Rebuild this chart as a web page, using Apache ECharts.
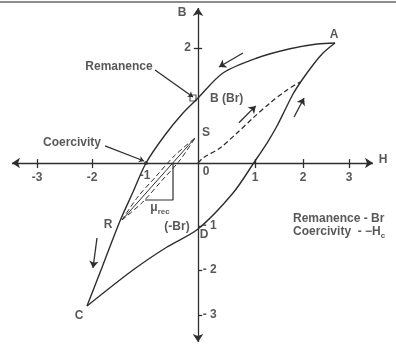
<!DOCTYPE html>
<html><head><meta charset="utf-8">
<script src="https://cdn.jsdelivr.net/npm/echarts@6/dist/echarts.min.js"></script>
<style>html,body{margin:0;padding:0;background:#fff}#c{width:396px;height:346px}</style>
</head><body><div id="c"></div>
<script>
// ---- data (H in data units, B in data units) ----
const upperBranch = [[-2.114,-2.554],[-1.81,-1.82],[-1.486,-1.036],[-1.238,-0.518],[-0.99,0],[-0.629,0.5],[-0.286,0.893],[0,1.161],[0.476,1.607],[1.124,1.875],[1.752,2.04],[2.267,2.125],[2.61,2.143]];
const lowerBranch = [[-2.114,-2.554],[-1.238,-1.911],[-0.59,-1.5],[0,-1.179],[0.667,-0.536],[1.086,0.036],[1.314,0.357],[1.505,0.661],[1.657,0.946],[1.81,1.232],[1.981,1.482],[2.19,1.75],[2.381,1.964],[2.61,2.143]];
const initialCurve = [[0,0],[0.095,0.089],[0.419,0.268],[0.743,0.536],[1.048,0.804],[1.371,1.071],[1.695,1.304],[1.943,1.446]];
const recoilMid = [[-1.448,-1.018],[-0.057,0.446]];
const recoilUpper = [[-1.448,-1.018],[-1.148,-0.607],[-0.80,-0.24],[-0.453,0.125],[-0.057,0.446]];
const recoilLower = [[-1.448,-1.018],[-1.052,-0.697],[-0.705,-0.33],[-0.357,0.035],[-0.057,0.446]];
const muTriangle = [[-1.01,-0.661],[-0.476,-0.661],[-0.476,0]];
const flowArrows = [[[0.857,1.964],[0.4,1.714]],[[1.83,0.821],[2.02,1.161]],[[0.78,0.72],[1.10,1.02]],[[-1.924,-1.339],[-2.0,-1.875]]];
const leaders = [[[-0.819,1.661],[-0.095,1.179]],[[-1.771,0.304],[-1.029,0.036]]];
const hAxisEnds = [-3.543,3.333];
const bAxisEnds = [2.768,-3.196];
const hTickPos = [-3.067,-2.019,1.086,2.0,2.876];
const hTickLabels = ['-3','-2','1','2','3'];
const bTickPos = [2.054,-1.125,-1.911,-2.714];
const bTickLabels = ['2','- 1','- 2','- 3'];
const remanencePoint = [-0.095,1.161];
const coercivePoint = [-0.99,0];
// annotation texts with anchor points (data units)
const pointLabels = [['A',2.59,2.286],['B (Br)',0.229,1.143],['S',0.152,0.536],['0',0.152,-0.161],['-1',-1.01,-0.232],['R',-1.714,-1.107],['(-Br)',-0.4,-1.143],['D',0.114,-1.286],['C',-2.267,-2.732],['B',-0.305,2.679],['H',3.524,0.054]];
const calloutLabels = [['Remanence',-1.505,1.714],['Coercivity',-2.4,0.357]];
const noteLabels = [['{t|Remanence - Br}',1.81,-1.0],['{t|Coercivity  - −H}{s|c}',1.81,-1.232]];
const muLabel = ['{t|μ}{s|rec}',-0.724,-0.804];

// ---- chart ----
const INK = '#2e2e2e';
const FONT = '"Liberation Sans", Arial, sans-serif';
const chart = echarts.init(document.getElementById('c'));
const baseText = {color: INK, fontFamily: FONT, fontWeight: 'bold', fontSize: 12};
function curve(data, opts) {
  return Object.assign({type:'line', data, symbol:'none', smooth:0.3, silent:true, animation:false,
    lineStyle:{color:INK, width:1.4}}, opts||{});
}
function dashed(data, w) { return curve(data, {lineStyle:{color:INK, width:w||1.2, type:[5,3]}}); }
function labelSeries(items, align, extra) {
  return {type:'scatter', symbolSize:0, silent:true, animation:false,
    data: items.map(it => ({value:[it[1], it[2]], name: it[0]})),
    label: Object.assign({show:true, position:'inside', align: align, verticalAlign:'middle',
      formatter: p => p.name}, baseText, extra||{})};
}
const arrowLines = (pairs, syms, size) => ({type:'line', data:[], silent:true, animation:false,
  markLine:{silent:true, animation:false, symbol:syms, symbolSize:size, label:{show:false},
    lineStyle:{color:INK, width:1.3, type:'solid'},
    data: pairs.map(p => [{coord:p[0]},{coord:p[1]}])}});

const tickSegs = [];
hTickPos.forEach(x => tickSegs.push([[x,0.07],[x,-0.09]]));
bTickPos.forEach((y,i) => tickSegs.push(i===0 ? [[-0.08,y],[0.08,y]] : [[0,y],[0.08,y]]));

const sub = {t:Object.assign({}, baseText), s:Object.assign({}, baseText, {fontSize:8, padding:[7,0,0,0]})};

chart.setOption({
  animation:false,
  grid:{left:0,right:0,top:0,bottom:0},
  xAxis:{type:'value', min:-198/52.5, max:198/52.5, show:false},
  yAxis:{type:'value', min:-183/56, max:163/56, show:false},
  graphic:[{type:'rect', shape:{x:0,y:1,width:396,height:2}, style:{fill:'#8c8c8c'}, silent:true}],
  series:[
    arrowLines([[[hAxisEnds[0],0],[hAxisEnds[1],0]]], ['arrow','arrow'], 8),
    arrowLines([[[0,bAxisEnds[0]],[0,bAxisEnds[1]]]], ['arrow','arrow'], 8),
    arrowLines(tickSegs, ['none','none'], 0),
    curve(upperBranch),
    curve(lowerBranch),
    dashed(initialCurve, 1.3),
    curve(recoilMid, {lineStyle:{color:INK, width:1}}),
    dashed(recoilUpper, 1),
    dashed(recoilLower, 1),
    curve(muTriangle, {smooth:false, lineStyle:{color:INK, width:1.2}}),
    arrowLines(flowArrows, ['none','arrow'], 7),
    arrowLines(leaders, ['none','arrow'], 5),
    {type:'scatter', silent:true, animation:false, data:[remanencePoint], symbol:'rect', symbolSize:6,
      itemStyle:{color:'#fff', borderColor:INK, borderWidth:1.2}},
    {type:'scatter', silent:true, animation:false, data:[coercivePoint], symbol:'circle', symbolSize:4,
      itemStyle:{color:INK}},
    labelSeries(pointLabels.filter(l => l[0]!=='B (Br)'), 'center'),
    labelSeries(pointLabels.filter(l => l[0]==='B (Br)'), 'left'),
    labelSeries(calloutLabels, 'center'),
    labelSeries(hTickPos.map((x,i) => [hTickLabels[i], x, -0.27]), 'center'),
    labelSeries(bTickPos.slice(0,1).map((y,i) => [bTickLabels[i], -0.133, y]), 'right'),
    labelSeries(bTickPos.slice(1).map((y,i) => [bTickLabels[i+1], 0.09, y]), 'left'),
    labelSeries(noteLabels, 'left', {rich: sub}),
    labelSeries([muLabel], 'center', {rich: sub})
  ]
});
</script></body></html>
